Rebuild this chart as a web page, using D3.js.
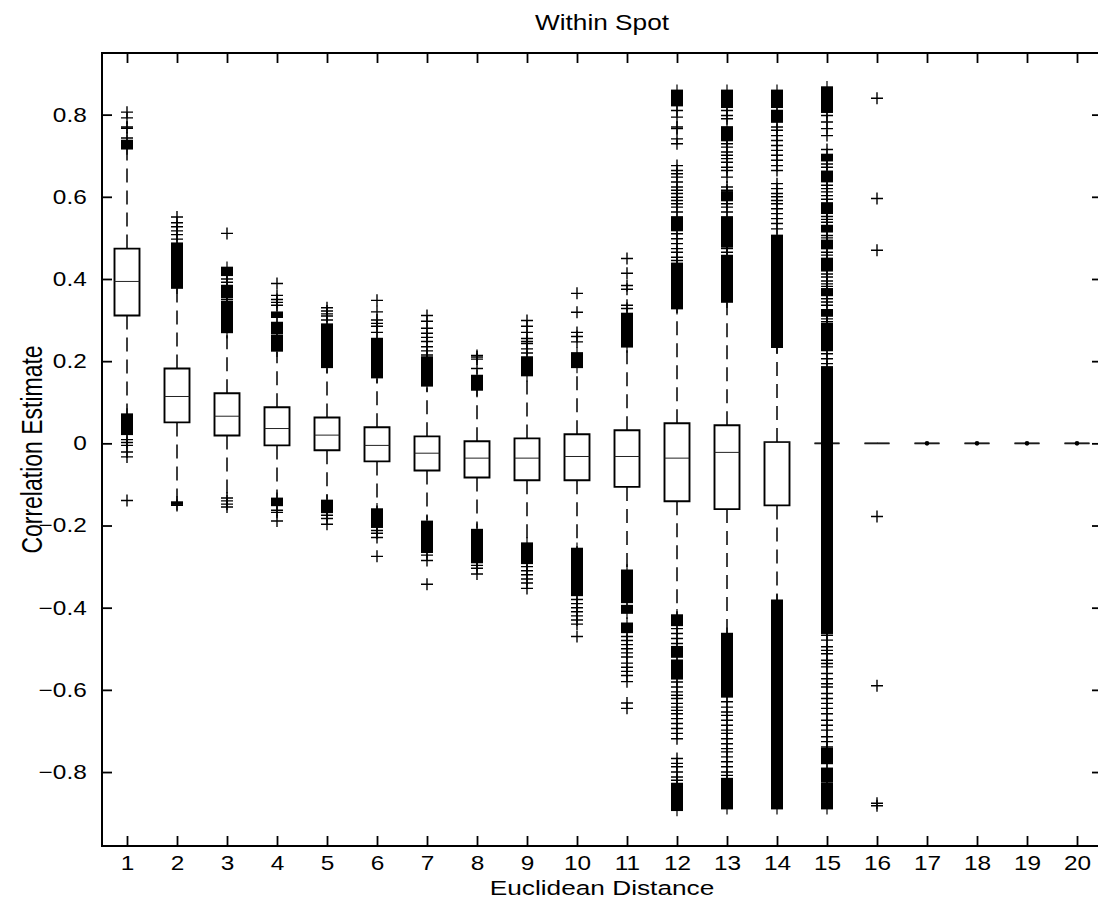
<!DOCTYPE html>
<html>
<head>
<meta charset="utf-8">
<title>Within Spot</title>
<script src="https://cdn.jsdelivr.net/npm/d3@7"></script>
<style>
body { margin: 0; background: #fff; }
svg text { font-family: "Liberation Sans", Arial, Helvetica, sans-serif; fill: #000; }
.axis path.domain { display: none; }
.axis line { stroke: #000; stroke-width: 1.8; }
</style>
</head>
<body>
<div id="chart"></div>
<script>
// distances on the x axis
const distances = [1,2,3,4,5,6,7,8,9,10,11,12,13,14,15,16,17,18,19,20];
const yTicks = [-0.8,-0.6,-0.4,-0.2,0,0.2,0.4,0.6,0.8];

// box statistics per distance
const upperQuartile = [0.474,0.182,0.122,0.088,0.063,0.039,0.017,0.005,0.012,0.022,0.032,0.049,0.044,0.003,0,0,0,0,0,0];
const medians       = [0.394,0.114,0.066,0.036,0.020,-0.005,-0.024,-0.036,-0.036,-0.032,-0.032,-0.036,-0.022,0.002,0,0,0,0,0,0];
const lowerQuartile = [0.311,0.051,0.019,-0.005,-0.017,-0.044,-0.066,-0.083,-0.090,-0.090,-0.106,-0.141,-0.160,-0.151,0,0,0,0,0,0];
const whiskerHigh   = [0.718,0.378,0.27,0.222,0.183,0.158,0.136,0.13,0.165,0.182,0.231,0.328,0.343,0.234,0,0,0,0,0,0];
const whiskerLow    = [0.07,-0.143,-0.13,-0.134,-0.137,-0.16,-0.187,-0.207,-0.243,-0.256,-0.309,-0.418,-0.462,-0.382,0,0,0,0,0,0];

// single outliers (one + each)
const outliers = [
  [0.806,0.792,0.770,0.767,0.743,0.009,0.002,-0.005,-0.021,-0.033,-0.139],
  [0.551,0.537,0.527,0.517,0.508,0.497,-0.151],
  [0.511,0.40,0.392,0.35,-0.133,-0.140,-0.148,-0.155],
  [0.389,0.36,0.35,0.343,0.336,-0.163,-0.168,-0.189],
  [0.33,0.322,0.315,0.31,0.30,-0.175,-0.183,-0.197],
  [0.348,0.32,0.30,0.292,0.285,0.27,-0.212,-0.219,-0.229,-0.275],
  [0.311,0.297,0.28,0.268,0.258,0.248,0.235,0.225,0.215,-0.272,-0.285,-0.343],
  [0.214,0.21,0.205,0.182,-0.297,-0.304,-0.318],
  [0.299,0.285,0.27,0.255,0.248,0.243,0.23,0.22,-0.30,-0.31,-0.32,-0.33,-0.34,-0.353],
  [0.365,0.319,0.27,0.26,0.247,-0.38,-0.39,-0.40,-0.41,-0.42,-0.43,-0.44,-0.47],
  [0.45,0.414,0.384,0.375,0.336,0.328,-0.47,-0.48,-0.49,-0.50,-0.51,-0.52,-0.535,-0.545,-0.555,-0.565,-0.58,-0.632,-0.645],
  [0.81,0.794,0.77,0.766,0.741,0.729,0.676,0.664,0.656,0.648,0.636,0.624,0.616,0.608,0.599,0.591,0.583,0.575,0.563,
   0.510,0.498,0.486,0.474,0.465,0.453,0.445,-0.451,-0.463,-0.475,-0.487,-0.581,-0.593,-0.605,-0.613,-0.621,-0.633,
   -0.642,-0.650,-0.658,-0.670,-0.682,-0.694,-0.706,-0.719,-0.767,-0.779,-0.787,-0.800,-0.812,-0.820],
  [0.810,0.798,0.790,0.729,0.721,0.709,0.701,0.693,0.684,0.672,0.664,0.648,0.624,0.616,0.583,0.575,0.563,0.474,0.465,
   -0.629,-0.642,-0.654,-0.662,-0.674,-0.686,-0.698,-0.706,-0.719,-0.731,-0.743,-0.751,-0.763,-0.775,-0.787,-0.800,-0.808],
  [0.770,0.762,0.749,0.737,0.725,0.713,0.701,0.689,0.676,0.664,0.632,0.620,0.608,0.600,0.591,0.583,0.571,0.559,0.547,0.535,0.522],
  [0.798,0.782,0.766,0.749,0.715,0.680,0.672,0.628,0.620,0.612,0.603,0.594,0.552,0.545,0.538,0.506,0.500,0.465,0.458,
   0.412,0.405,0.395,0.388,0.382,0.352,0.344,0.336,0.303,0.296,0.218,0.206,0.194,
   -0.467,-0.479,-0.495,-0.504,-0.512,-0.528,-0.536,-0.544,-0.560,-0.573,-0.585,-0.593,-0.609,-0.621,-0.633,-0.645,
   -0.658,-0.674,-0.686,-0.698,-0.714,-0.726,-0.739],
  [0.84,0.596,0.47,-0.178,-0.59,-0.876,-0.882],
  [],[],[],[]
];

// runs of outliers so close together that their markers merge into a block
const outlierRuns = [
  [[0.717,0.737],[0.022,0.071]],
  [[0.378,0.487],[-0.148,-0.143]],
  [[0.409,0.428],[0.355,0.384],[0.27,0.345]],
  [[0.307,0.319],[0.268,0.294],[0.225,0.263],[-0.151,-0.134]],
  [[0.185,0.29],[-0.168,-0.139]],
  [[0.16,0.255],[-0.204,-0.16]],
  [[0.14,0.21],[-0.265,-0.19]],
  [[0.13,0.165],[-0.29,-0.21]],
  [[0.165,0.21],[-0.292,-0.243]],
  [[0.185,0.22],[-0.37,-0.256]],
  [[0.235,0.316],[-0.387,-0.309],[-0.413,-0.395],[-0.46,-0.438]],
  [[0.822,0.859],[0.518,0.551],[0.328,0.438],[-0.443,-0.418],[-0.52,-0.495],[-0.573,-0.528],[-0.893,-0.828]],
  [[0.818,0.859],[0.737,0.770],[0.591,0.612],[0.478,0.551],[0.344,0.457],[-0.617,-0.463],[-0.889,-0.816]],
  [[0.818,0.859],[0.782,0.810],[0.234,0.506],[-0.889,-0.382]],
  [[0.806,0.867],[0.688,0.703],[0.637,0.662],[0.56,0.585],[0.515,0.53],[0.474,0.494],[0.42,0.45],[0.36,0.376],[0.31,0.325],
   [0.226,0.291],[-0.462,0.186],[-0.779,-0.743],[-0.824,-0.791],[-0.889,-0.828]],
  [],[],[],[],[]
];

const width = 1098, height = 912;
const margin = {top: 53, right: -4, bottom: 66, left: 102};
const boxWidth = 25, plusHalf = 6;
const stretch = 1.22; // the figure's lettering is drawn wider than it is tall

const svg = d3.select("#chart").append("svg")
    .attr("width", width)
    .attr("height", height);

const x = d3.scaleLinear().domain([0.5, 20.5]).range([margin.left, width - margin.right]);
const y = d3.scaleLinear().domain([-0.98, 0.95]).range([height - margin.bottom, margin.top]);

const boxes = distances.map((d, i) => ({
  d: d,
  q1: lowerQuartile[i], med: medians[i], q3: upperQuartile[i],
  lo: whiskerLow[i], hi: whiskerHigh[i],
  out: outliers[i], runs: outlierRuns[i]
}));

// axes: ticks point inwards on all four sides
const fmt = v => v === 0 ? "0" : d3.format(".1f")(v);
svg.append("g").attr("class", "axis")
    .attr("transform", "translate(0," + y.range()[0] + ")")
    .call(d3.axisBottom(x).tickValues(distances).tickSizeInner(-10).tickSizeOuter(0).tickPadding(10))
    .selectAll("text")
      .attr("font-size", 20)
      .attr("transform", "scale(" + stretch + ",1)");
svg.append("g").attr("class", "axis")
    .attr("transform", "translate(0," + y.range()[1] + ")")
    .call(d3.axisTop(x).tickValues(distances).tickSizeInner(-10).tickSizeOuter(0).tickFormat(""));
svg.append("g").attr("class", "axis")
    .attr("transform", "translate(" + x.range()[0] + ",0)")
    .call(d3.axisLeft(y).tickValues(yTicks).tickSizeInner(-10).tickSizeOuter(0).tickPadding(12.5).tickFormat(fmt))
    .selectAll("text")
      .attr("font-size", 20)
      .attr("transform", "scale(" + stretch + ",1)");
svg.append("g").attr("class", "axis")
    .attr("transform", "translate(" + x.range()[1] + ",0)")
    .call(d3.axisRight(y).tickValues(yTicks).tickSizeInner(-10).tickSizeOuter(0).tickFormat(""));

svg.append("rect")
    .attr("x", x.range()[0]).attr("y", y.range()[1])
    .attr("width", x.range()[1] - x.range()[0])
    .attr("height", y.range()[0] - y.range()[1])
    .attr("fill", "none").attr("stroke", "#000").attr("stroke-width", 2);

const g = svg.append("g");

// whiskers
g.selectAll(".whisk-hi").data(boxes).join("line")
    .attr("x1", b => x(b.d)).attr("x2", b => x(b.d))
    .attr("y1", b => y(b.q3)).attr("y2", b => y(b.hi))
    .attr("stroke", "#000").attr("stroke-width", 1.5).attr("stroke-dasharray", "14,8");
g.selectAll(".whisk-lo").data(boxes).join("line")
    .attr("x1", b => x(b.d)).attr("x2", b => x(b.d))
    .attr("y1", b => y(b.q1)).attr("y2", b => y(b.lo))
    .attr("stroke", "#000").attr("stroke-width", 1.5).attr("stroke-dasharray", "14,8");

// boxes (path so that a collapsed box still shows as a line)
g.selectAll(".box").data(boxes).join("path")
    .attr("d", b => {
      const x0 = x(b.d) - boxWidth / 2, x1 = x(b.d) + boxWidth / 2;
      return "M" + x0 + "," + y(b.q3) + "H" + x1 + "V" + y(b.q1) + "H" + x0 + "Z";
    })
    .attr("fill", "none").attr("stroke", "#000").attr("stroke-width", 1.9);

g.selectAll(".median").data(boxes).join("line")
    .attr("x1", b => x(b.d) - boxWidth / 2).attr("x2", b => x(b.d) + boxWidth / 2)
    .attr("y1", b => y(b.med)).attr("y2", b => y(b.med))
    .attr("stroke", "#222").attr("stroke-width", 1);

// zero-length whisker with no outliers leaves a dot
g.selectAll(".dot").data(boxes.filter(b => b.q1 === b.q3 && b.out.length === 0)).join("circle")
    .attr("cx", b => x(b.d)).attr("cy", b => y(b.med)).attr("r", 2.3).attr("fill", "#000");

// merged outlier blocks
const runs = boxes.flatMap(b => b.runs.map(r => ({d: b.d, lo: r[0], hi: r[1]})));
g.selectAll(".run").data(runs).join("rect")
    .attr("x", r => x(r.d) - plusHalf).attr("width", plusHalf * 2)
    .attr("y", r => y(r.hi) - 0.8).attr("height", r => y(r.lo) - y(r.hi) + 1.6)
    .attr("fill", "#000");
g.selectAll(".run-stem").data(runs).join("line")
    .attr("x1", r => x(r.d)).attr("x2", r => x(r.d))
    .attr("y1", r => y(r.hi) - plusHalf).attr("y2", r => y(r.lo) + plusHalf)
    .attr("stroke", "#000").attr("stroke-width", 1.2);

// single outliers as + markers
const pts = boxes.flatMap(b => b.out.map(v => ({d: b.d, v: v})));
g.selectAll(".plus").data(pts).join("path")
    .attr("d", p => {
      const cx = x(p.d), cy = y(p.v);
      return "M" + (cx - plusHalf) + "," + cy + "H" + (cx + plusHalf) +
             "M" + cx + "," + (cy - plusHalf) + "V" + (cy + plusHalf);
    })
    .attr("fill", "none").attr("stroke", "#000").attr("stroke-width", 1.4);

// labels
const midX = (x.range()[0] + x.range()[1]) / 2;
svg.append("text")
    .attr("transform", "translate(" + midX + ",30) scale(" + stretch + ",1)")
    .attr("text-anchor", "middle").attr("font-size", 21.5).text("Within Spot");
svg.append("text")
    .attr("transform", "translate(" + midX + ",895) scale(1.28,1)")
    .attr("text-anchor", "middle").attr("font-size", 20.5).text("Euclidean Distance");
svg.append("text")
    .attr("transform", "translate(42," + ((y.range()[0] + y.range()[1]) / 2) + ") scale(1.3,1) rotate(-90)")
    .attr("text-anchor", "middle").attr("font-size", 23).text("Correlation Estimate");
</script>
</body>
</html>
